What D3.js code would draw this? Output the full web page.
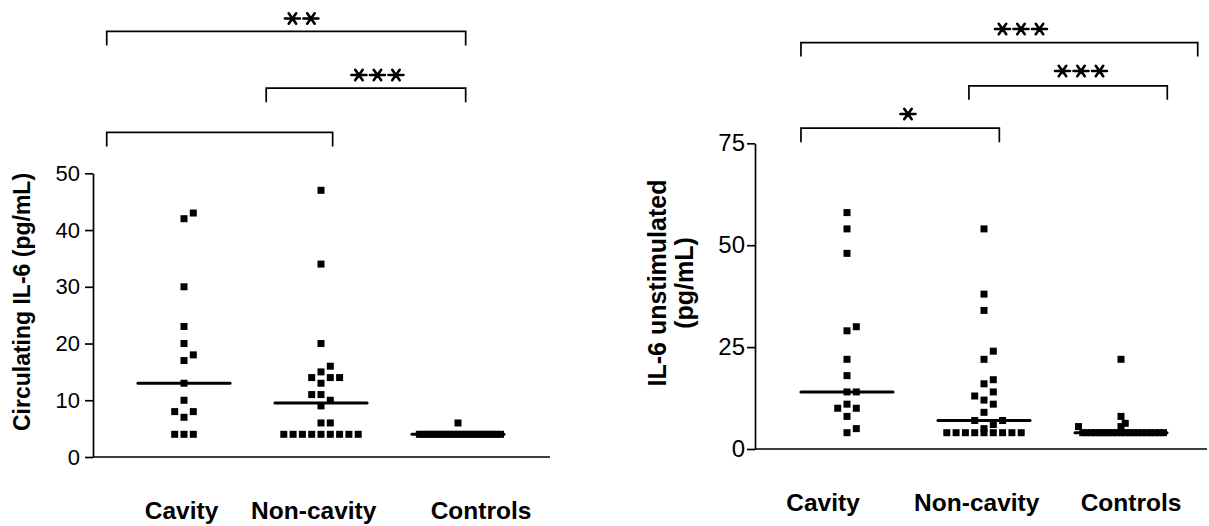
<head>
<meta charset="utf-8">
<script src="https://cdn.jsdelivr.net/npm/d3@7"></script>
<style>
  body { margin: 0; background: #fff; }
  text { font-family: Arial, "Liberation Sans", sans-serif; fill: #000; }
</style>
</head>
<body>
<div id="main_div"></div>
<script>
// data
var groups = ["Cavity", "Non-cavity", "Controls"];

var circCavity = [42, 43, 30, 23, 20, 17, 18, 13, 10, 8, 8, 7, 4, 4, 4];
var circNonCavity = [47, 34, 20, 16, 15, 14, 14, 14, 13, 11, 11, 10, 9, 6, 6,
                     4, 4, 4, 4, 4, 4, 4, 4, 4];
var circControls = [6, 4, 4, 4, 4, 4, 4, 4, 4, 4, 4, 4, 4, 4, 4, 4, 4, 4, 4, 4, 4, 4, 4];
var circTicks = [0, 10, 20, 30, 40, 50];

var unstimCavity = [58, 54, 48, 30, 29, 22, 18, 14, 14, 11, 10, 10, 8, 5, 4];
var unstimNonCavity = [54, 38, 34, 24, 22, 17, 16, 14, 13, 12, 11, 9, 7, 7, 6, 5,
                       4, 4, 4, 4, 4, 4, 4, 4, 4];
var unstimControls = [22, 8, 6.3, 5.5, 5.5, 4, 4, 4, 4, 4, 4, 4, 4, 4, 4, 4, 4, 4, 4, 4, 4, 4, 4, 4, 4];
var unstimTicks = [0, 25, 50, 75];

// comparison brackets: ends in column units, level in y units, stars and where they sit
var circBrackets = [
  {from: -0.564, to: 2.056, level: 75, stars: 2, sx: 0.859, sy: 18.5},
  {from: 0.6, to: 2.056, level: 65, stars: 3, sx: 1.412, sy: 75},
  {from: -0.564, to: 1.085, level: 57.2, stars: 0, sx: 0, sy: 0}
];
var unstimBrackets = [
  {from: -0.336, to: 2.56, level: 99.7, stars: 3, sx: 1.27, sy: 29},
  {from: 0.89, to: 2.338, level: 89.1, stars: 3, sx: 1.708, sy: 71},
  {from: -0.336, to: 1.112, level: 78.7, stars: 1, sx: 0.445, sy: 114}
];

var W = 1209, H = 526;
var svg = d3.select("#main_div").append("svg")
    .attr("width", W).attr("height", H)
    .style("display", "block");

var SQ = 7, STEP = 9.3, HALF = 42.5;

// six armed asterisk as a d3 symbol type
var asterisk = {
  draw: function(ctx, size) {
    var r = Math.sqrt(size) / 2;
    [0, 60, 120].forEach(function(a){
      var t = a * Math.PI / 180, dx = Math.cos(t) * r, dy = Math.sin(t) * r * 0.8;
      ctx.moveTo(-dx, -dy);
      ctx.lineTo(dx, dy);
    });
  }
};

// spread points of one column sideways so squares don't sit on each other
function dodge(values, y) {
  var counts = d3.rollup(values, function(v){ return v.length; }, function(d){ return d; });
  var nTie = d3.max(Array.from(counts.values()));
  var maxCol = Math.floor(HALF / STEP), step = STEP;
  if (nTie > 2 * maxCol + 1) { maxCol = Math.ceil((nTie - 1) / 2); step = HALF / maxCol; }
  var order = [0];
  for (var k = 1; k <= maxCol; k++) order.push(k, -k);
  var placed = [];
  values.slice().sort(d3.ascending).forEach(function(v){
    var py = y(v), best = 0, bestD = -1;
    for (var i = 0; i < order.length; i++) {
      var c = order[i];
      var hits = placed.filter(function(p){ return p.col === c && Math.abs(p.py - py) < STEP; });
      if (!hits.length) { best = c; break; }
      var d = d3.min(hits, function(p){ return Math.abs(p.py - py); });
      if (d > bestD) { bestD = d; best = c; }
    }
    placed.push({v: v, py: py, col: best});
  });
  placed.forEach(function(p){ p.dx = p.col * step; });
  return placed;
}

function panel(cfg) {
  var x = d3.scaleLinear().domain([0, 2]).range(cfg.xr);
  var y = d3.scaleLinear().domain([0, cfg.ymax]).range(cfg.yr);
  var g = svg.append("g");

  // y axis
  var ax = g.append("g")
      .attr("transform", "translate(" + cfg.axisX + ",0)")
      .call(d3.axisLeft(y).tickValues(cfg.ticks).tickSize(8).tickSizeOuter(0).tickPadding(cfg.pad));
  ax.selectAll("path, line").attr("stroke", "#000").attr("stroke-width", 1.7);
  ax.selectAll("text").style("font-size", cfg.tickFont + "px")
      .style("font-family", "Arial, 'Liberation Sans', sans-serif").attr("fill", "#000");

  // x axis line, no ticks
  g.append("line")
      .attr("x1", cfg.axisX).attr("x2", cfg.axisEnd)
      .attr("y1", y(0)).attr("y2", y(0))
      .attr("stroke", "#000").attr("stroke-width", 1.7);

  g.selectAll(".xlab").data(groups).enter().append("text")
      .attr("x", function(d, i){ return x(cfg.labelAt[i]); })
      .attr("y", y(0) + 62)
      .attr("text-anchor", "middle")
      .style("font-size", "24.5px").style("font-weight", "bold")
      .text(function(d){ return d; });

  // axis title
  cfg.title.forEach(function(t, i){
    g.append("text")
      .attr("transform", "translate(" + (cfg.titleX + i * 27) + "," + cfg.titleY + ") rotate(-90)")
      .attr("text-anchor", "middle")
      .style("font-size", cfg.titleFont + "px").style("font-weight", "bold")
      .text(t);
  });

  // points + medians
  cfg.series.forEach(function(vals, i){
    var pts = dodge(vals, y);
    g.selectAll(".pt" + i).data(pts).enter().append("rect")
        .attr("x", function(p){ return x(i) + p.dx - SQ / 2; })
        .attr("y", function(p){ return p.py - SQ / 2; })
        .attr("width", SQ).attr("height", SQ)
        .attr("fill", "#000");
    var m = d3.median(vals);
    g.append("line")
        .attr("x1", x(i - 0.336)).attr("x2", x(i + 0.336))
        .attr("y1", y(m)).attr("y2", y(m))
        .attr("stroke", "#000").attr("stroke-width", 3).attr("stroke-linecap", "round");
  });

  // significance brackets
  var star = d3.symbol().type(asterisk).size(225);
  cfg.brackets.forEach(function(b){
    var by = y(b.level);
    g.append("path")
        .attr("d", "M" + x(b.from) + "," + (by + 14) + "V" + by + "H" + x(b.to) + "V" + (by + 14))
        .attr("fill", "none").attr("stroke", "#000").attr("stroke-width", 1.7);
    d3.range(b.stars).forEach(function(k){
      var cx = x(b.sx) + (k - (b.stars - 1) / 2) * 18.5;
      g.append("path")
          .attr("transform", "translate(" + cx + "," + b.sy + ")")
          .attr("d", star())
          .attr("fill", "none").attr("stroke", "#000")
          .attr("stroke-width", 2.6).attr("stroke-linecap", "round");
    });
  });
}

panel({
  xr: [184, 458], yr: [457, 173.3], ymax: 50, ticks: circTicks,
  axisX: 93, axisEnd: 550, pad: 5, tickFont: 22,
  labelAt: [-0.018, 0.947, 2.168],
  title: ["Circulating IL-6 (pg/mL)"], titleX: 30, titleY: 302, titleFont: 23,
  series: [circCavity, circNonCavity, circControls],
  brackets: circBrackets
});

panel({
  xr: [847, 1121], yr: [449, 143.3], ymax: 75, ticks: unstimTicks,
  axisX: 755, axisEnd: 1207, pad: 2, tickFont: 24,
  labelAt: [-0.175, 0.947, 2.073],
  title: ["IL-6 unstimulated", "(pg/mL)"], titleX: 666, titleY: 283, titleFont: 25,
  series: [unstimCavity, unstimNonCavity, unstimControls],
  brackets: unstimBrackets
});
</script>
</body>
